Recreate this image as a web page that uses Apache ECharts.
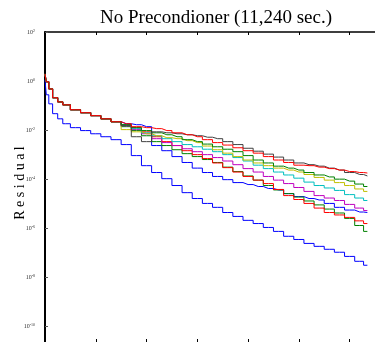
<!DOCTYPE html>
<html><head><meta charset="utf-8">
<script src="https://cdn.jsdelivr.net/npm/echarts@6/dist/echarts.min.js"></script>
<style>html,body{margin:0;padding:0;background:#fff}#c{width:375px;height:342px}</style>
</head><body><div id="c"></div>
<script>
// iteration axis positions (arbitrary units, unlabeled ticks at 1..6)
const iterX = [0, 0.05, 0.1, 0.2, 0.3, 0.4, 0.6, 0.8, 1.0, 1.2, 1.4, 1.6, 1.8, 2.0, 2.2, 2.4, 2.6, 2.8, 3.0, 3.2, 3.4, 3.6, 3.8, 4.0, 4.2, 4.4, 4.6, 4.8, 5.0, 5.2, 5.4, 5.6, 5.8, 6.0, 6.2, 6.35];
// log10 of residual; shared early part of the bundle
const bundleStart = [0.29, -0.03, -0.32, -0.68, -0.85, -0.97, -1.17, -1.29, -1.41, -1.54, -1.66];
const blackTail   = [-1.82, -2.27, -2.47, -2.07, -2.11, -2.15, -2.19, -2.23, -2.29, -2.35, -2.47, -2.59, -2.74, -2.86, -2.98, -3.10, -3.22, -3.34, -3.41, -3.47, -3.55, -3.63, -3.73, -3.81, -3.87];
const redTail     = [-1.74, -1.86, -1.90, -1.94, -2.02, -2.11, -2.19, -2.27, -2.39, -2.51, -2.61, -2.72, -2.84, -2.94, -3.08, -3.22, -3.32, -3.43, -3.45, -3.51, -3.57, -3.63, -3.69, -3.73, -3.75];
const greenTail   = [-1.78, -1.90, -2.02, -2.11, -2.19, -2.27, -2.39, -2.47, -2.57, -2.68, -2.78, -2.88, -3.04, -3.22, -3.34, -3.47, -3.55, -3.63, -3.73, -3.83, -3.91, -4.00, -4.08, -4.20, -4.30];
const yellowTail  = [-1.98, -2.07, -2.15, -2.23, -2.31, -2.35, -2.43, -2.51, -2.65, -2.80, -2.94, -3.08, -3.22, -3.34, -3.45, -3.55, -3.63, -3.71, -3.81, -3.93, -4.04, -4.14, -4.26, -4.40, -4.50];
const cyanTail    = [-1.78, -1.94, -2.11, -2.23, -2.35, -2.47, -2.59, -2.68, -2.78, -2.88, -3.00, -3.12, -3.26, -3.43, -3.57, -3.71, -3.83, -3.96, -4.12, -4.26, -4.36, -4.46, -4.63, -4.77, -4.87];
const magentaTail = [-1.82, -1.98, -2.15, -2.35, -2.51, -2.63, -2.76, -2.88, -3.00, -3.12, -3.26, -3.41, -3.57, -3.71, -3.89, -4.04, -4.18, -4.34, -4.50, -4.67, -4.77, -4.87, -5.03, -5.18, -5.28];
const green2Tail  = [-1.86, -2.02, -2.23, -2.47, -2.63, -2.80, -2.96, -3.08, -3.20, -3.32, -3.51, -3.69, -3.87, -4.04, -4.26, -4.44, -4.59, -4.73, -4.89, -5.05, -5.22, -5.38, -5.60, -5.89, -6.13];
const red2Tail    = [-1.78, -1.90, -2.07, -2.27, -2.47, -2.63, -2.84, -3.00, -3.16, -3.34, -3.53, -3.71, -3.89, -4.04, -4.18, -4.42, -4.67, -4.83, -4.99, -5.18, -5.36, -5.46, -5.56, -5.70, -5.81];
const blueTail    = [-1.74, -1.78, -1.86, -2.63, -2.84, -3.08, -3.32, -3.55, -3.73, -3.89, -4.02, -4.14, -4.22, -4.30, -4.38, -4.44, -4.59, -4.71, -4.79, -4.85, -4.99, -5.15, -5.26, -5.34, -5.36];
const blueLow     = [0.05, -0.56, -0.93, -1.33, -1.54, -1.74, -1.90, -2.02, -2.15, -2.27, -2.39, -2.59, -3.04, -3.45, -3.73, -3.98, -4.26, -4.55, -4.79, -4.99, -5.15, -5.36, -5.52, -5.68, -5.81, -5.97, -6.13, -6.33, -6.46, -6.62, -6.74, -6.86, -6.98, -7.15, -7.35, -7.51];
const yTickExps = [2, 0, -2, -4, -6, -8, -10];
const xTicks = [1, 2, 3, 4, 5, 6];

const lines = [
  {name:'blueLow', color:'#0000ff', vals: blueLow},
  {name:'blue', color:'#0000ff', vals: bundleStart.concat(blueTail)},
  {name:'green2', color:'#008000', vals: bundleStart.concat(green2Tail)},
  {name:'red2', color:'#ff0000', vals: bundleStart.concat(red2Tail)},
  {name:'magenta', color:'#bf00bf', vals: bundleStart.concat(magentaTail)},
  {name:'cyan', color:'#00bfbf', vals: bundleStart.concat(cyanTail)},
  {name:'yellow', color:'#bfbf00', vals: bundleStart.concat(yellowTail)},
  {name:'green', color:'#008000', vals: bundleStart.concat(greenTail)},
  {name:'black', color:'#404040', vals: bundleStart.concat(blackTail)},
  {name:'red', color:'#ff0000', vals: bundleStart.concat(redTail)}
];

const chart = echarts.init(document.getElementById('c'), null, {renderer:'canvas'});
const serif = '"Liberation Serif", "DejaVu Serif", serif';
const xAxisBase = {
  type:'value', min:0, max:6.5,
  axisLabel:{show:false},
  splitLine:{show:false},
  axisLine:{show:true, onZero:false, lineStyle:{color:'#000', width:1.5}},
  axisTick:{show:true, inside:true, length:3, customValues: xTicks, lineStyle:{color:'#000'}}
};
chart.setOption({
  animation:false,
  backgroundColor:'#fff',
  title:{text:'No Precondioner (11,240 sec.)', left:211, top:4, textAlign:'center',
    textStyle:{fontFamily:serif, fontSize:19, fontWeight:'normal', color:'#000'}},
  grid:{left:45, top:32, width:335, height:312},
  xAxis:[
    Object.assign({}, xAxisBase, {position:'bottom', axisLine:{show:false, onZero:false}}),
    Object.assign({}, xAxisBase, {position:'top'})
  ],
  yAxis:{
    type:'value', min:-10.64, max:2,
    splitLine:{show:false},
    axisLine:{show:true, onZero:false, lineStyle:{color:'#000', width:2}},
    axisTick:{show:true, inside:true, length:3, customValues: yTickExps, lineStyle:{color:'#555'}},
    axisLabel:{
      customValues: yTickExps, margin:10,
      formatter: v => '{b|10}{s|' + String(v) + '}',
      rich:{
        b:{fontFamily:serif, fontSize:6, color:'#333', verticalAlign:'bottom'},
        s:{fontFamily:serif, fontSize:4, color:'#333', verticalAlign:'top'}
      }
    }
  },
  graphic:[{
    type:'text', x:20, y:183, rotation:Math.PI/2,
    style:{text:'R e s i d u a l', font:'14px "Liberation Serif", serif', fill:'#000', align:'center', verticalAlign:'middle'}
  }],
  series: lines.map(l => ({
    type:'line', name:l.name, step:'middle', showSymbol:false, symbol:'none',
    lineStyle:{color:l.color, width:1}, itemStyle:{color:l.color},
    data: l.vals.map((v,i) => [iterX[i], v])
  }))
});
</script></body></html>
